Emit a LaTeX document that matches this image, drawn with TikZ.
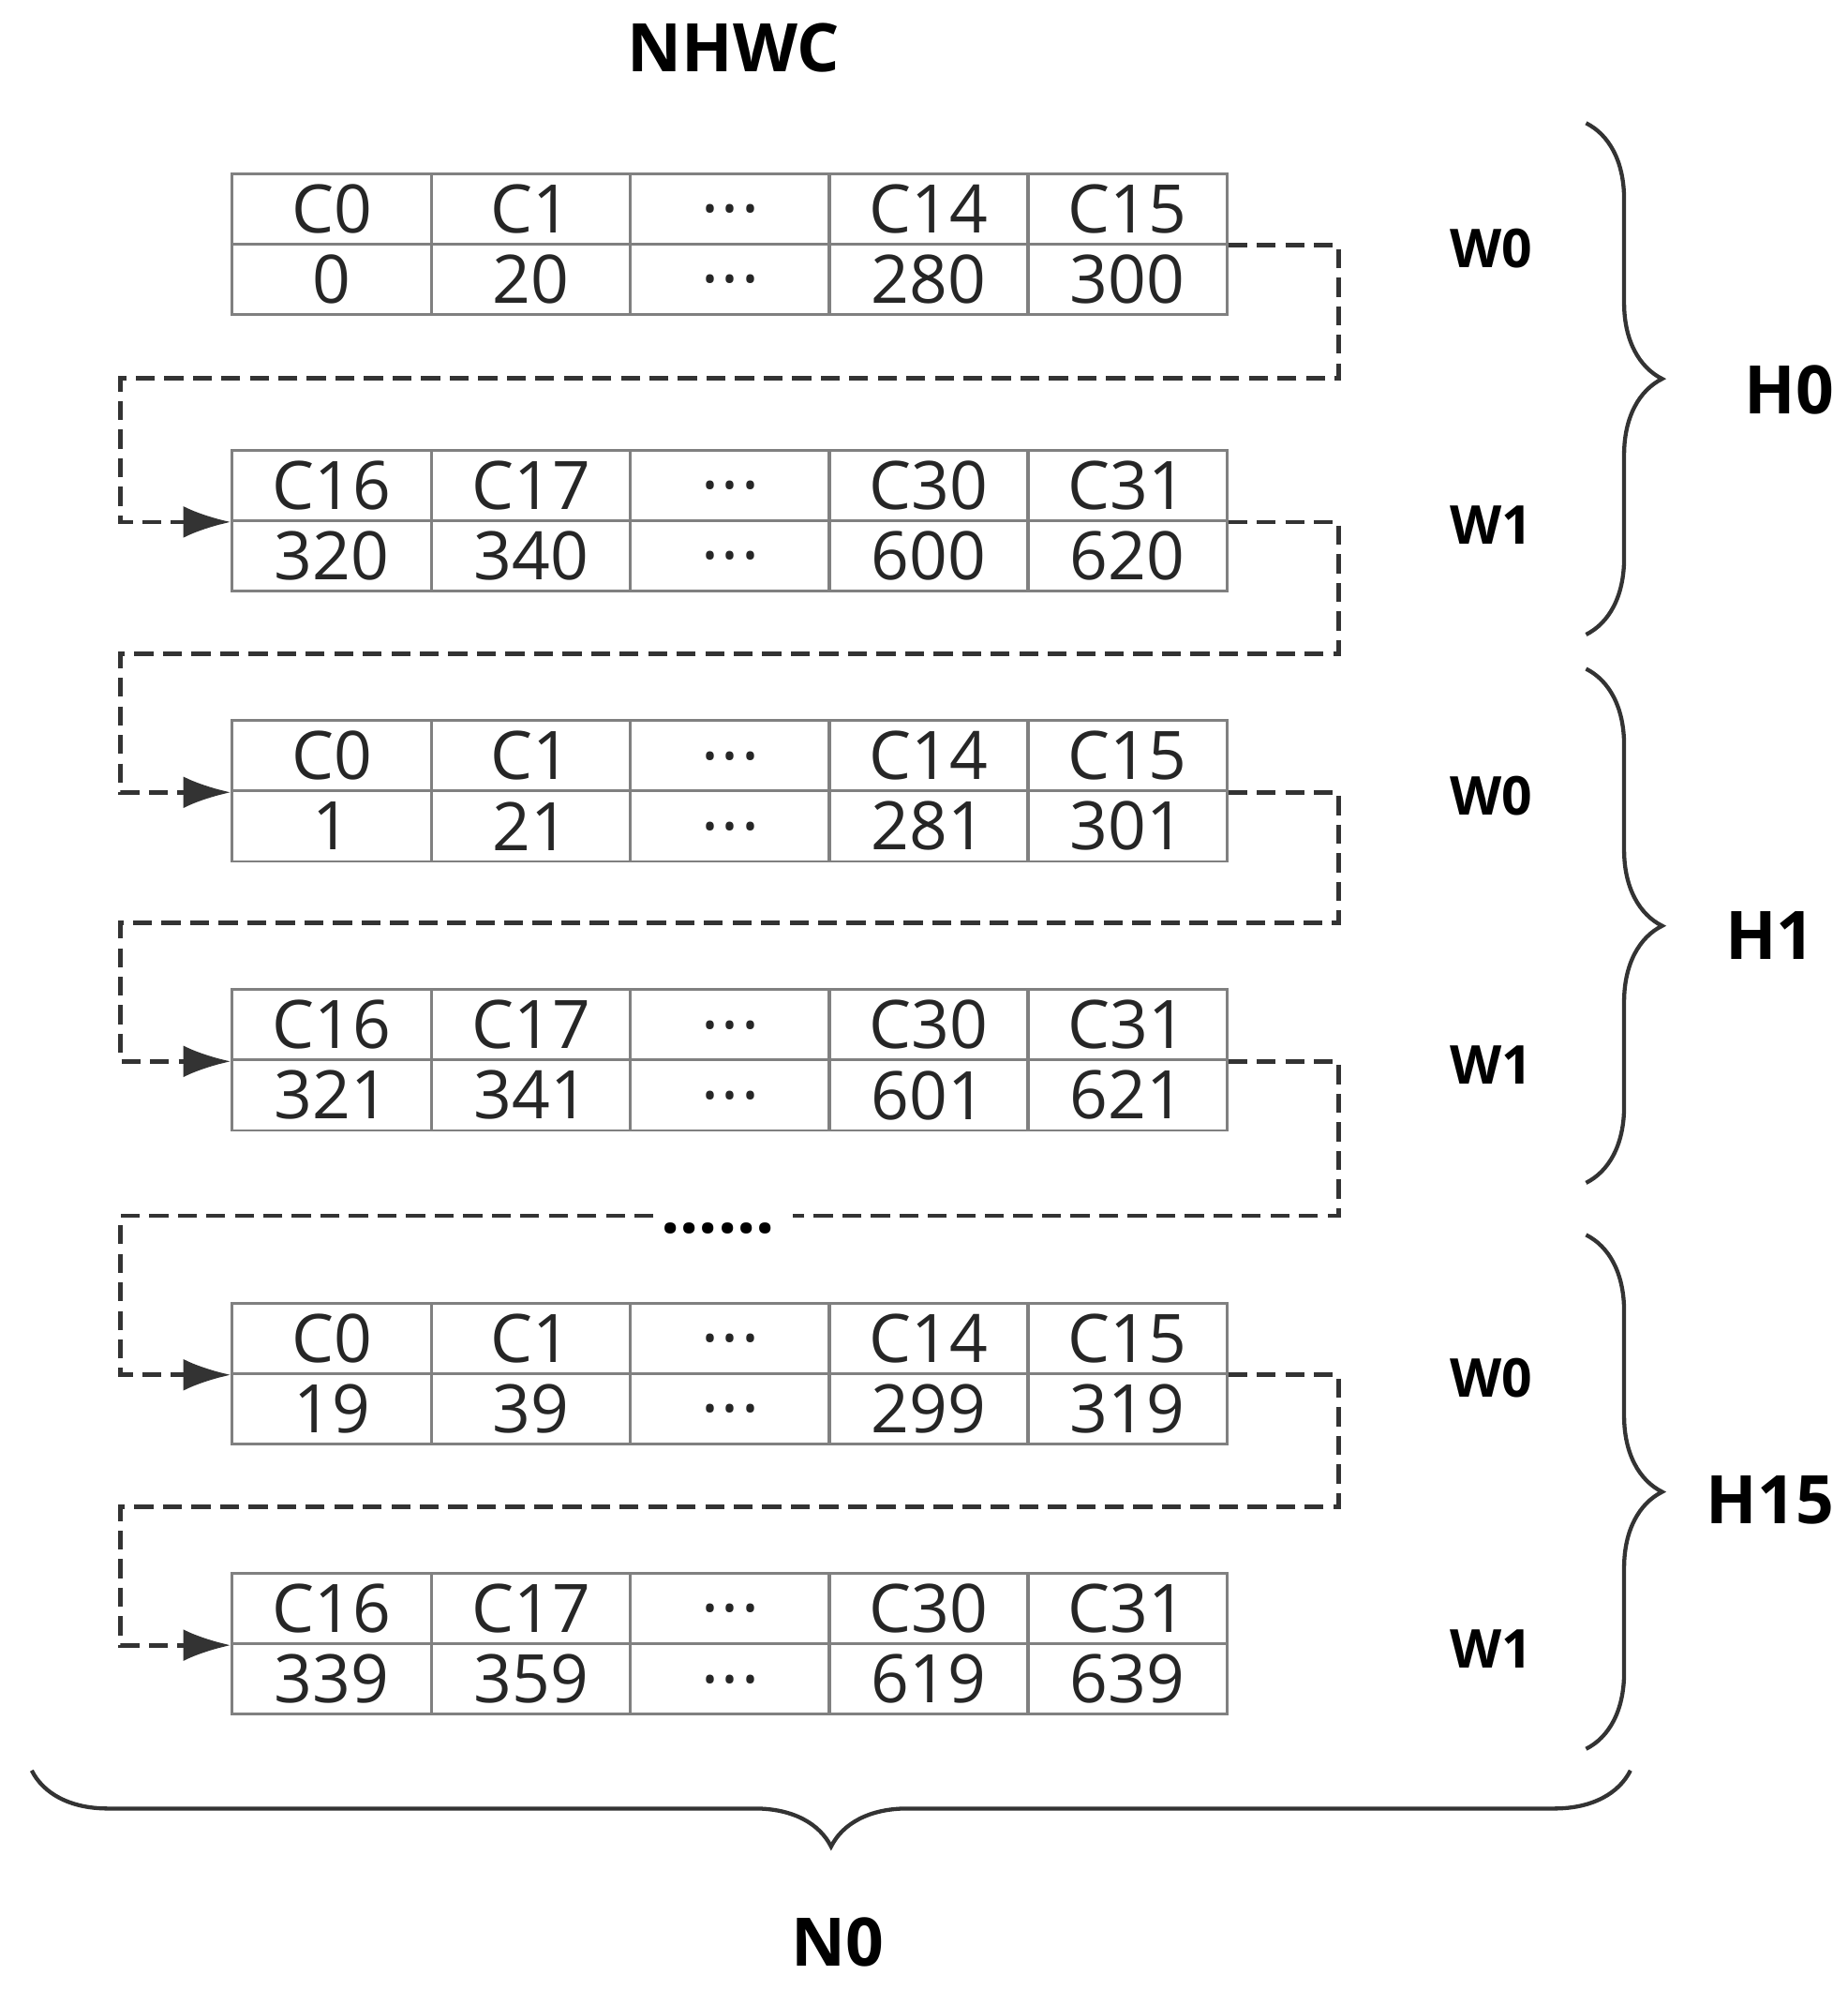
\documentclass[tikz,border=0pt]{standalone}
\usepackage{fontspec}
\setmainfont{Open Sans}
\usetikzlibrary{decorations.pathreplacing,arrows.meta}
\begin{document}
\begin{tikzpicture}[x=0.02cm,y=-0.02cm,
  cell/.style={draw=black!50,line width=1.2pt,minimum width=3.14cm,minimum height=1.11cm,inner sep=0pt,font=\fontsize{30}{30}\selectfont,text=black!85},
  lab/.style={font=\bfseries\fontsize{24}{24}\selectfont},
  big/.style={font=\bfseries\fontsize{30}{30}\selectfont},
  dline/.style={dashed,dash pattern=on 0.3cm off 0.15cm,line width=2pt,black!80},
  brc/.style={decorate,decoration={brace,amplitude=1.2cm},line width=1.8pt,black!80}]
\useasboundingbox (0,0) rectangle (1456,1568);
\node[big] (title) at (578,38) {NHWC};
\foreach \i/\top/\a/\b/\c/\d/\e/\f/\g/\h/\w in {
 1/137/C0/C1/C14/C15/0/20/280/300/W0,
 2/355/C16/C17/C30/C31/320/340/600/620/W1,
 3/568/C0/C1/C14/C15/1/21/281/301/W0,
 4/780/C16/C17/C30/C31/321/341/601/621/W1,
 5/1027/C0/C1/C14/C15/19/39/299/319/W0,
 6/1240/C16/C17/C30/C31/339/359/619/639/W1}{
  \pgfmathsetmacro\ya{\top+27.5}
  \pgfmathsetmacro\yb{\top+83}
  \node[cell] (t\i a1) at (261.5,\ya) {\a};
  \node[cell] (t\i a2) at (418.5,\ya) {\b};
  \node[cell] (t\i a3) at (575.5,\ya) {.\kern1pt.\kern1pt.};
  \node[cell] (t\i a4) at (732,\ya) {\c};
  \node[cell] (t\i a5) at (888.5,\ya) {\d};
  \node[cell] (t\i b1) at (261.5,\yb) {\e};
  \node[cell] (t\i b2) at (418.5,\yb) {\f};
  \node[cell] (t\i b3) at (575.5,\yb) {.\kern1pt.\kern1pt.};
  \node[cell] (t\i b4) at (732,\yb) {\g};
  \node[cell] (t\i b5) at (888.5,\yb) {\h};
  \node[lab] (w\i) at (1175,\top+59) {\w};
}
\foreach \i/\j/\y in {1/2/298,2/3/515,3/4/727,5/6/1187}{
  \draw[dline,-{Latex[length=0.75cm,width=0.5cm]}] (t\i a5.south east) -- (1055,0 |- t\i a5.south east) -- (1055,\y) -- (95,\y) -- (95,0 |- t\j a1.south west) -- (t\j a1.south west);
}
\coordinate (ga) at (515,958);
\coordinate (gb) at (625,958);
\draw[dline] (t4a5.south east) -- (1055,0 |- t4a5.south east) -- (1055,958) -- (gb);
\draw[dline,-{Latex[length=0.75cm,width=0.5cm]}] (ga) -- (95,958) -- (95,0 |- t5a1.south west) -- (t5a1.south west);
\node[font=\bfseries\fontsize{30}{30}\selectfont] (dots) at (566,968) {......};
\draw[brc] (1250,97) -- (1250,500);
\draw[brc] (1250,527) -- (1250,932);
\draw[brc] (1250,973) -- (1250,1378);
\draw[brc] (1285,1395) -- (25,1395);
\node[big] (h0) at (1410,307) {H0};
\node[big] (h1) at (1395,737) {H1};
\node[big] (h15) at (1395,1182) {H15};
\node[big] (n0) at (660,1530) {N0};
\end{tikzpicture}
\end{document}
